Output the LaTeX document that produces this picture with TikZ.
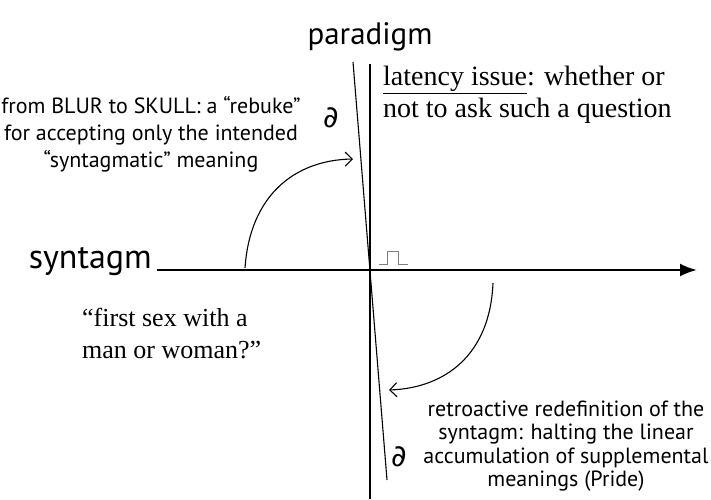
\documentclass[tikz,border=0pt]{standalone}
\usepackage{fontspec}
\setmainfont{Liberation Serif}
\setsansfont{PT Sans}
\newfontfamily\symfont{DejaVu Sans}
\usetikzlibrary{arrows.meta}

\tikzset{
  axis/.style={line width=2.4pt},
  thinline/.style={line width=1.1pt},
  bend arrow/.style={line width=1.1pt, -{Straight Barb[length=7pt,width=14pt]}},
  sanslabel/.style={font=\sffamily\fontsize{31}{36}\selectfont, inner sep=1pt},
  sansnote/.style={font=\sffamily\fontsize{22}{27}\selectfont, align=center, inner sep=0pt},
  serifnote/.style={font=\fontsize{28}{31.5}\selectfont, align=left, inner sep=0pt},
  partialmark/.style={font=\symfont\fontsize{30}{34}\selectfont, inner sep=0pt}
}

\begin{document}
\begin{tikzpicture}[x=1pt,y=-1pt]
  \useasboundingbox (0,0) rectangle (711,499);

  % Axis labels
  \node[sanslabel] (paradigm) at (370,37) {paradigm};
  \node[sanslabel, font=\sffamily\fontsize{34}{38}\selectfont, anchor=east] (syntagm) at (153,262) {syntagm};

  % Axes
  \coordinate (xstart) at (157,270);
  \coordinate (xend) at (697,270);
  \coordinate (ytop) at (370,64);
  \coordinate (ybot) at (370,499);
  \draw[axis, -{Latex[length=17pt,width=13pt]}] (xstart) -- (xend);
  \draw[axis] (ytop) -- (ybot);

  % Slanted boundary line
  \coordinate (stop) at (353,62);
  \coordinate (sbot) at (387,480);
  \draw[thinline] (stop) -- (sbot);

  % Partial signs
  \node[partialmark] (dtop) at (331,118) {∂};
  \node[partialmark] (dbot) at (399,457) {∂};

  % Pulse
  \coordinate (pulse) at (379,264);
  \draw[gray, line width=1pt] (pulse) -- ++(8,0) -- ++(0,-13) -- ++(11,0) -- ++(0,13) -- ++(10,0);

  % Notes
  \node[sansnote] (rebuke) at (151,134) {from BLUR to SKULL: a “rebuke”\\for accepting only the intended\\“syntagmatic” meaning};
  \node[serifnote, anchor=north west] (latency) at (383,66) {\underline{latency issue}: whether or\\not to ask such a question};
  \node[serifnote, font=\fontsize{26}{32}\selectfont, anchor=north west] (question) at (82,308) {“first sex with a\\man or woman?”};
  \node[sansnote, font=\sffamily\fontsize{22}{23.5}\selectfont] (retro) at (566,446) {retroactive redefinition of the\\syntagm: halting the linear\\accumulation of supplemental\\meanings (Pride)};

  % Curved arrows
  \coordinate (upstart) at (245,268);
  \coordinate (uptip) at (353,159);
  \coordinate (downstart) at (493,283);
  \coordinate (downtip) at (389,390);
  \draw[bend arrow] (upstart) .. controls (250,195) and (295,160) .. (uptip);
  \draw[bend arrow] (downstart) .. controls (490,355) and (445,388) .. (downtip);
\end{tikzpicture}
\end{document}
